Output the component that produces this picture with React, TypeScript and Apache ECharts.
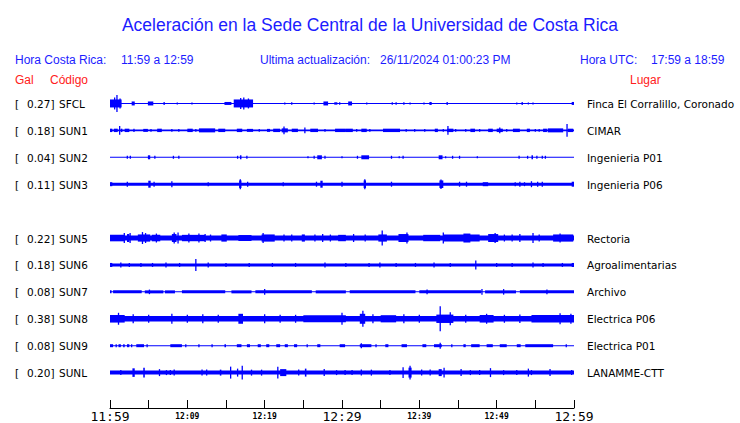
import React, { useEffect, useRef } from 'react';
import * as echarts from 'echarts';

// ---------- data ----------
const stationCodes = ['SFCL', 'SUN1', 'SUN2', 'SUN3', 'SUN5', 'SUN6', 'SUN7', 'SUN8', 'SUN9', 'SUNL'];
const galValues = ['0.27', '0.18', '0.04', '0.11', '0.22', '0.18', '0.08', '0.38', '0.08', '0.20'];
const places = [
  'Finca El Corralillo, Coronado', 'CIMAR', 'Ingenieria P01', 'Ingenieria P06',
  'Rectoria', 'Agroalimentarias', 'Archivo', 'Electrica P06', 'Electrica P01', 'LANAMME-CTT',
];
const rowIndex = [0, 1, 2, 3, 5, 6, 7, 8, 9, 10];
// continuous background amplitude of each trace (arbitrary amplitude units)
const baseAmp = [0.5, 0.8, 0.5, 1.5, 2.5, 1.5, 0.5, 2.8, 0.5, 2.0];

// events: [minuteStart, minuteEnd, amplitude] or [minute, amplitude] for a single spike
type Ev = number[];
const sfclEvents: Ev[] = [
  [0, 1.5, 4], [0.9, 8.5], [0.6, 6], [1.3, 5], [2.8, 3.2, 2], [4.9, 5.6, 2], [7.0, 1.5], [8.7, 1], [10.6, 1],
  [14.8, 15.7, 1.5], [16.0, 18.5, 4], [16.9, 5.5], [17.3, 6], [17.9, 5], [22.6, 1], [23.5, 1.2], [26.4, 1],
  [27.6, 28.2, 2], [29.0, 29.4, 1.2], [29.7, 1.2], [30.8, 31.3, 2], [33.2, 1], [36.5, 1.2], [37.0, 1.2],
  [38.0, 1.2], [38.8, 1], [40.6, 1], [41.3, 41.6, 1.5], [43.6, 1.5], [52.6, 1], [53.3, 1.5], [54.1, 1],
  [54.7, 1], [59.7, 60, 1.5],
];
const sun1Events: Ev[] = [
  [0, 0.3, 1.7], [0.5, 1.0, 1.7], [1.25, 4.5], [1.4, 1.6, 1.7], [1.9, 2.5, 1.7], [3.1, 1.7], [4.3, 4.9, 1.5],
  [5.3, 1.5], [6.1, 6.7, 1.7], [8.0, 1.5], [8.9, 1.5], [10.0, 10.7, 1.7], [11.1, 1.5], [11.5, 13.6, 2],
  [14.0, 14.9, 1.7], [16.4, 17.1, 1.7], [17.7, 18.5, 1.5], [19.3, 1.5], [20.3, 20.7, 1.5], [21.1, 22.0, 1.7],
  [22.2, 23.0, 2], [22.5, 4], [23.5, 24.3, 1.7], [25.2, 3], [25.9, 26.9, 1.7], [27.8, 1.5], [29.1, 30.4, 1.7],
  [30.4, 31.4, 1.7], [31.9, 1.5], [32.5, 33.2, 1.7], [33.6, 1.5], [35.3, 37.5, 1.7], [38.3, 1.5], [39.4, 1.5],
  [40.7, 1.5], [42.0, 42.4, 1.7], [43.1, 1.5], [43.6, 44.4, 1.7], [43.7, 4.5], [44.7, 1.5], [46.0, 1.5],
  [46.6, 47.2, 1.7], [47.8, 1.5], [48.9, 49.5, 1.7], [50.0, 50.8, 1.7], [50.4, 3], [51.3, 1.5],
  [52.1, 53.0, 1.7], [53.9, 54.3, 1.7], [55.0, 1.5], [55.5, 1.5], [56.0, 56.5, 1.7], [56.6, 58.6, 2],
  [59.1, 6.5], [59.2, 59.9, 1.7],
];
const sun2Events: Ev[] = [
  [2.24, 1.5], [2.63, 1.5], [4.9, 5.2, 2], [5.8, 1.5], [8.2, 1.5], [8.9, 1.5], [16.5, 1.5], [16.8, 17.0, 2],
  [17.7, 1.5], [25.6, 1], [26.4, 1.5], [26.8, 27.4, 2], [27.8, 1.5], [30.0, 1], [32.0, 1.5], [32.5, 33.5, 2],
  [36.4, 1.5], [37.4, 1], [37.9, 1.5], [42.5, 43.0, 2], [43.4, 1], [44.3, 1.5], [45.2, 1.5], [47.5, 1],
  [52.9, 1.5], [54.0, 1.5], [54.5, 54.7, 2], [55.2, 1.5], [55.9, 1.5], [56.3, 1.5],
];
const sun3Events: Ev[] = [
  [0, 0.3, 2], [2.24, 2.5], [4.95, 5.26, 3.5], [5.7, 2.5], [8.0, 3], [12.7, 2], [16.7, 17.0, 3.8], [16.85, 5],
  [17.8, 2.5], [22.4, 2], [26.7, 2.5], [27.2, 27.5, 3.5], [30.0, 2.5], [32.8, 33.1, 3.8], [32.95, 5],
  [36.4, 2.5], [42.6, 43.1, 3.8], [42.8, 4.8], [45.2, 2.5], [46.1, 2.5], [48.2, 48.9, 2], [52.4, 2],
  [53.0, 2.5], [53.6, 2], [54.5, 3], [55.3, 2.5], [55.9, 2.5], [59.7, 60, 2.5],
];
const sun5Events: Ev[] = [
  [0, 1.9, 3.3], [1.85, 5], [2.2, 2.5, 4], [2.6, 5], [3.6, 5.2, 3.6], [4.2, 6], [4.6, 5], [5.4, 6.5, 3.3],
  [6.0, 4.5], [8.0, 8.6, 4], [8.3, 5.5], [8.8, 5.5], [9.3, 12.3, 3.2], [10.2, 4.5], [11.5, 4.5], [12.3, 4],
  [13.0, 3.5], [14.4, 15.1, 3.6], [16.6, 18.3, 3], [19.6, 21.3, 3.6], [19.8, 5], [22.5, 3.5], [23.5, 3.5],
  [24.8, 25.2, 3.6], [26.5, 3.5], [27.5, 4], [28.5, 3.5], [29.5, 30.5, 3.2], [31.5, 4], [33, 3.5],
  [34.7, 35.8, 3.6], [35.2, 7.5], [37.3, 38.6, 4], [38.4, 5.5], [40.5, 42.7, 3.2], [43.1, 5.5],
  [43.1, 47.8, 3.6], [45.7, 46.6, 4.5], [48.9, 50.2, 4], [49.8, 5], [51, 3.5], [52, 3.5], [53, 4], [54.7, 5],
  [55.5, 3.5], [57.3, 59.9, 3.6], [58.2, 4.5],
];
const sun6Events: Ev[] = [
  [0, 0.3, 2], [1.4, 2.5], [2.5, 2], [4.0, 2], [5.5, 2], [7.24, 2.5], [9.0, 2], [11.1, 6], [12.7, 2.5],
  [15, 2], [18, 2], [21, 2], [24, 2], [27.8, 2.5], [30.5, 2], [33.5, 2], [34.9, 2.5], [37, 2], [39.5, 2],
  [41.9, 2.5], [44, 2], [47.3, 4.5], [50, 2], [52, 2], [54.7, 2.5], [56, 2], [58.5, 2], [59.7, 60, 2],
];
const sun7Events: Ev[] = [
  [0, 0.2, 1.5], [0.4, 4.1, 1.5], [4.5, 6.9, 1.5], [5.1, 2.3], [7.1, 8.4, 1.5], [9.3, 14.9, 1.5],
  [15.7, 18.3, 1.5], [18.8, 26.1, 1.5], [20.0, 2.8], [26.6, 30.5, 1.5], [31, 39.5, 1.5], [40, 48, 1.5],
  [41, 2.3], [48.1, 2.8], [48.5, 52.5, 1.5], [50.9, 2.8], [53, 60, 1.5], [56.5, 2.3],
];
const sun8Events: Ev[] = [
  [0, 1.9, 3.8], [1.1, 6], [3, 4.5], [5, 4], [8.0, 5], [10, 4], [12, 4.5], [14, 4], [16.6, 17.2, 5], [20.0, 4.5],
  [22, 4], [24, 4], [25.0, 30.5, 3.6], [30.0, 6], [32.3, 33.0, 5], [32.7, 8], [34, 4.5], [35, 37, 3.6],
  [38, 4.5], [40, 4], [42.2, 44.4, 4.2], [42.7, 12.5], [44.0, 6.5], [46, 4], [47.8, 49.6, 3.8], [48.7, 5],
  [51, 4], [53, 4.2], [54.5, 60, 3.8], [58.2, 5.5], [59.6, 5],
];
const sun9Events: Ev[] = [
  [0, 0.4, 1.5], [0.8, 1.5], [1.1, 1.4, 1.5], [1.7, 1.9, 1.5], [2.2, 2.5, 1.5], [2.8, 1.5], [3.4, 4.4, 1.5],
  [4.8, 1.5], [7.8, 9.3, 1.5], [9.8, 1.5], [11.5, 1.5], [13.2, 1.5], [14.8, 15.0, 1.5], [16.4, 17.0, 1.5],
  [17.7, 18.1, 1.5], [19.1, 19.5, 1.5], [20.2, 20.6, 1.5], [21.5, 22.0, 1.5], [22.6, 23.0, 1.5],
  [23.8, 24.2, 1.5], [25.5, 1.5], [26.8, 27.2, 1.5], [29.7, 30.4, 1.5], [32.3, 33.8, 1.5], [32.5, 2.5],
  [34.4, 1.5], [35.6, 36.0, 1.5], [37.7, 38.4, 1.5], [40.4, 40.9, 1.5], [41.9, 42.9, 1.5], [42.7, 3],
  [44.2, 1.5], [45.7, 46.0, 1.5], [46.7, 47.8, 1.5], [48.7, 49.5, 1.5], [50.4, 51.3, 1.5], [52.6, 53.1, 1.5],
  [53.7, 57.3, 1.5], [59.0, 1.5],
];
const sunlEvents: Ev[] = [
  [1.4, 2.5], [2.9, 3.2, 4.3], [4.3, 4.5, 5], [6.4, 3.5], [7.3, 2.5], [7.8, 2.5], [8.3, 3], [11.9, 3], [12.5, 3],
  [14.2, 14.4, 3], [15.6, 6], [16.5, 4], [17.1, 7], [18.3, 3], [19.6, 3], [21.7, 6], [22.0, 22.8, 3.5],
  [24.4, 3], [25.2, 25.4, 4], [27.7, 3.5], [29.3, 2.5], [30.4, 2.5], [31.3, 2.5], [32.5, 3], [33.8, 3],
  [36.2, 2.5], [37.9, 5.5], [38.6, 39.0, 5], [38.8, 7], [40.3, 3], [41.4, 3], [42.5, 42.9, 3.5], [43.2, 5],
  [45.4, 3.5], [46.6, 2.5], [47.8, 2.5], [49.2, 4.5], [50.9, 2.5], [52.6, 2.5], [54.1, 4], [54.5, 2.5],
  [56.9, 3.5], [59.7, 2.5],
];
const stationEvents: Ev[][] = [
  sfclEvents, sun1Events, sun2Events, sun3Events, sun5Events,
  sun6Events, sun7Events, sun8Events, sun9Events, sunlEvents,
];

const tickLabels = ['11:59', '12:09', '12:19', '12:29', '12:39', '12:49', '12:59'];
const titleText = 'Aceleración en la Sede Central de la Universidad de Costa Rica';
const horaCR = '11:59 a 12:59';
const horaUTC = '17:59 a 18:59';
const ultimaAct = '26/11/2024 01:00:23 PM';

// ---------- layout ----------
const W = 740;
const H = 423;
const ROW_PX = 27;
const GRID_LEFT = 110;
const GRID_RIGHT = 574;
const GRID_TOP = 90;
const AXIS_Y = 409;
const Y_MIN = -0.5;
const Y_MAX = Y_MIN + (AXIS_Y - GRID_TOP) / ROW_PX;
const AMP_PER_ROW = 27;

const BLUE = '#1c1cff';
const RED = '#ff2020';
const TRACE = '#0000ff';

export default function App() {
  const ref = useRef<HTMLDivElement>(null);
  useEffect(() => {
    document.body.style.margin = '0';
    if (!ref.current) return;
    const chart = echarts.init(ref.current, null, { renderer: 'svg' });

    const traceData: number[][] = [];
    stationEvents.forEach((evs, i) => {
      const row = rowIndex[i];
      traceData.push([row, 0, 60, baseAmp[i]]);
      evs.forEach((e) => {
        if (e.length === 2) traceData.push([row, e[0], e[0], e[1]]);
        else traceData.push([row, e[0], e[1], e[2]]);
      });
    });
    const labelData = stationCodes.map((_, i) => [rowIndex[i], 0, 60, i]);

    const txt = (text: string, x: number, y: number, fill: string, size: number, family: string, align = 'left') => ({
      type: 'text',
      x,
      y,
      silent: true,
      style: { text, fill, fontSize: size, fontFamily: family, align, verticalAlign: 'middle' },
    });

    chart.setOption({
      animation: false,
      backgroundColor: '#ffffff',
      title: {
        text: titleText,
        left: 'center',
        top: 11,
        textStyle: { color: BLUE, fontSize: 17.5, fontWeight: 'normal', fontFamily: 'Liberation Sans' },
      },
      graphic: [
        txt('Hora Costa Rica:', 15, 60, BLUE, 12, 'Liberation Sans'),
        txt(horaCR, 121, 60, BLUE, 12, 'Liberation Sans'),
        txt('Ultima actualización:', 260, 60, BLUE, 12, 'Liberation Sans'),
        txt(ultimaAct, 380, 60, BLUE, 12, 'Liberation Sans'),
        txt('Hora UTC:', 580, 60, BLUE, 12, 'Liberation Sans'),
        txt(horaUTC, 651, 60, BLUE, 12, 'Liberation Sans'),
        txt('Gal', 15, 80, RED, 12, 'Liberation Sans'),
        txt('Código', 50, 80, RED, 12, 'Liberation Sans'),
        txt('Lugar', 630, 80, RED, 12, 'Liberation Sans'),
      ],
      grid: { left: GRID_LEFT, right: W - GRID_RIGHT, top: GRID_TOP, bottom: H - AXIS_Y, containLabel: false },
      xAxis: {
        type: 'value',
        min: 0,
        max: 60,
        interval: 5,
        splitLine: { show: false },
        axisLine: { show: true, onZero: false, lineStyle: { color: '#000', width: 1 } },
        axisTick: { show: true, inside: true, length: 8, lineStyle: { color: '#000', width: 1 } },
        axisLabel: {
          show: true,
          margin: 2,
          showMinLabel: true,
          showMaxLabel: true,
          hideOverlap: false,
          formatter: (v: number) => {
            if (Math.round(v) % 10 !== 0) return '';
            const lab = tickLabels[Math.round(v) / 10];
            return Math.round(v) % 30 === 0 ? `{big|${lab}}` : `{small|${lab}}`;
          },
          rich: {
            big: { fontFamily: 'DejaVu Sans Mono', fontSize: 13, color: '#000' },
            small: { fontFamily: 'DejaVu Sans Mono', fontSize: 8, fontWeight: 'bold', color: '#000', padding: [2, 0, 0, 0] },
          },
        },
      },
      yAxis: {
        type: 'value',
        inverse: true,
        min: Y_MIN,
        max: Y_MAX,
        show: false,
      },
      series: [
        {
          type: 'custom',
          silent: true,
          clip: false,
          encode: { x: [1, 2], y: 0 },
          data: traceData,
          renderItem: (_p: any, api: any) => {
            const row = api.value(0);
            const s = api.value(1);
            const e = api.value(2);
            const a = api.value(3);
            const p1 = api.coord([s, row - a / AMP_PER_ROW]);
            const p2 = api.coord([e, row + a / AMP_PER_ROW]);
            let x0 = Math.min(p1[0], p2[0]);
            let w = Math.abs(p2[0] - p1[0]);
            if (w < 1.3) {
              x0 = (p1[0] + p2[0]) / 2 - 0.65;
              w = 1.3;
            }
            let y0 = Math.min(p1[1], p2[1]);
            let h = Math.abs(p2[1] - p1[1]);
            if (h < 1) {
              y0 = (p1[1] + p2[1]) / 2 - 0.5;
              h = 1;
            }
            return { type: 'rect', shape: { x: x0, y: y0, width: w, height: h }, style: { fill: TRACE } };
          },
        },
        {
          type: 'custom',
          silent: true,
          clip: false,
          encode: { x: [1, 2], y: 0 },
          data: labelData,
          renderItem: (_p: any, api: any) => {
            const row = api.value(0);
            const i = api.value(3);
            const y = api.coord([0, row])[1] + 0.5;
            const st = (text: string, x: number) => ({
              type: 'text',
              style: { text, x, y, fill: '#000', fontSize: 10.5, fontFamily: 'DejaVu Sans', verticalAlign: 'middle', align: 'left' },
            });
            return {
              type: 'group',
              children: [st('[', 15), st(`${galValues[i]}]`, 27), st(stationCodes[i], 59), st(places[i], 587)],
            };
          },
        },
      ],
    });
    return () => chart.dispose();
  }, []);
  return <div ref={ref} style={{ width: W, height: H }} />;
}
